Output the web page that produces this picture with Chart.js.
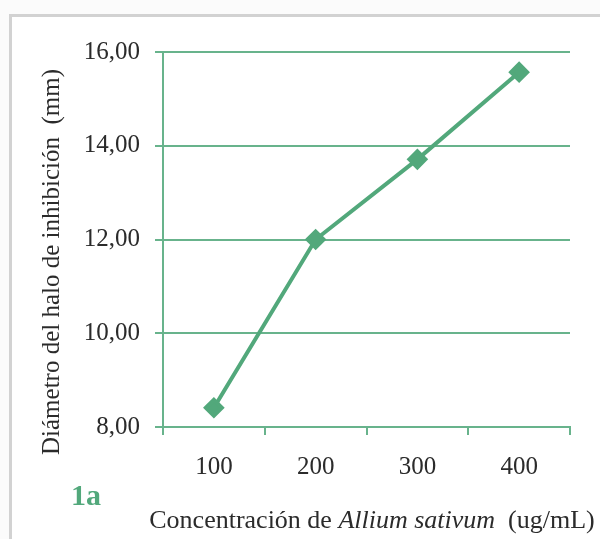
<!DOCTYPE html>
<html>
<head>
<meta charset="utf-8">
<script src="https://cdn.jsdelivr.net/npm/chart.js@4.4.1/dist/chart.umd.min.js"></script>
<style>
  body { margin: 0; background: #fbfbfb; }
  #wrap { position: relative; width: 600px; height: 539px; }
  #frame { position: absolute; left: 9px; top: 14px; right: 0; bottom: 0; background: #fff;
    border-top: 3px solid #d2d2d2; border-left: 3px solid #d2d2d2; }
  canvas { position: absolute; left: 0; top: 0; }
</style>
</head>
<body>
<div id="wrap">
  <div id="frame"></div>
  <canvas id="chart" width="600" height="539"></canvas>
</div>
<script>
const concentraciones = ["100", "200", "300", "400"];
const diametros = [8.41, 12.0, 13.71, 15.57];
const yMin = 8;
const yMax = 16;
const yStep = 2;

const verde = "#52a87b";
const rejilla = "#68b38c";
const texto = "#2b2b2b";
const serif = '"Liberation Serif", "Times New Roman", serif';

// titles with mixed italic text, drawn on the canvas
const textos = {
  id: "textos",
  afterDraw(chart) {
    const ctx = chart.ctx;
    ctx.save();
    ctx.fillStyle = texto;
    ctx.textBaseline = "middle";

    // y title
    ctx.save();
    ctx.translate(52, 262);
    ctx.rotate(-Math.PI / 2);
    ctx.textAlign = "center";
    ctx.font = "25px " + serif;
    ctx.fillText("Diámetro del halo de inhibición  (mm)", 0, 0);
    ctx.restore();

    // x title
    const partes = [
      ["Concentración de ", "26px " + serif],
      ["Allium sativum", "italic 26px " + serif],
      ["  (ug/mL)", "26px " + serif]
    ];
    let total = 0;
    partes.forEach(p => { ctx.font = p[1]; total += ctx.measureText(p[0]).width; });
    let x = 372 - total / 2;
    ctx.textAlign = "left";
    partes.forEach(p => {
      ctx.font = p[1];
      ctx.fillText(p[0], x, 521);
      x += ctx.measureText(p[0]).width;
    });

    // panel label
    ctx.fillStyle = verde;
    ctx.font = "bold 30px " + serif;
    ctx.fillText("1a", 71, 497);
    ctx.restore();
  }
};

new Chart(document.getElementById("chart"), {
  type: "line",
  data: {
    labels: concentraciones,
    datasets: [{
      data: diametros,
      borderColor: verde,
      backgroundColor: verde,
      borderWidth: 4,
      pointStyle: "rectRot",
      pointRadius: 8,
      pointHoverRadius: 8,
      tension: 0
    }]
  },
  options: {
    responsive: false,
    animation: false,
    layout: { padding: { top: 52, right: 30, bottom: 0, left: 0 } },
    plugins: { legend: { display: false }, tooltip: { enabled: false } },
    scales: {
      x: {
        offset: true,
        grid: { offset: true, drawOnChartArea: false, drawTicks: true, tickLength: 8, color: rejilla, lineWidth: 2 },
        border: { display: true, color: rejilla, width: 2 },
        ticks: { color: texto, font: { family: serif, size: 25 }, padding: 17 },
        afterFit(scale) { scale.height = 112; }
      },
      y: {
        min: yMin,
        max: yMax,
        grid: { color: rejilla, lineWidth: 2, drawTicks: true, tickLength: 8 },
        border: { display: true, color: rejilla, width: 2 },
        ticks: {
          stepSize: yStep,
          color: texto,
          font: { family: serif, size: 25 },
          padding: 15,
          callback: v => v.toFixed(2).replace(".", ",")
        },
        afterFit(scale) { scale.width = 163; }
      }
    }
  },
  plugins: [textos]
});
</script>
</body>
</html>
